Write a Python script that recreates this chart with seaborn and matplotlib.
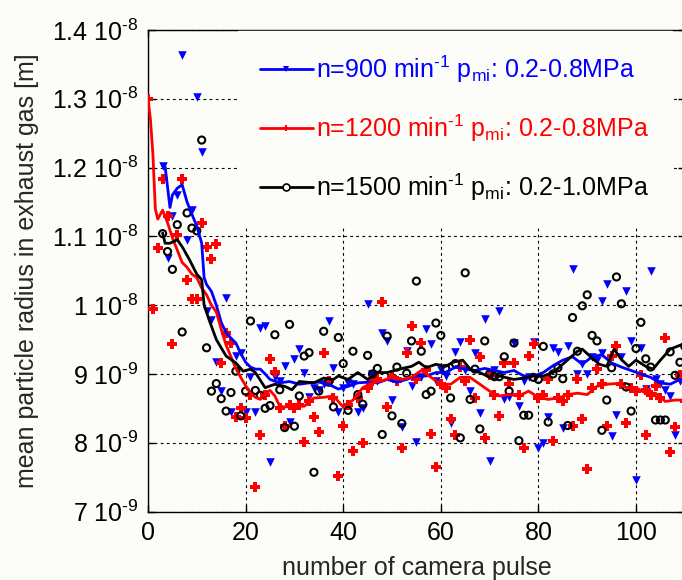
import matplotlib
matplotlib.use("Agg")
import matplotlib.pyplot as plt
from matplotlib.lines import Line2D
import seaborn as sns

# radius values in units of 1e-9 m, x = camera pulse number
blue_x = [3, 4, 5, 6, 7, 8, 9, 10, 11, 12, 13, 14, 15, 16, 17, 18, 19, 20, 21, 22,
          23, 24, 25, 26, 27, 28, 29, 30, 31, 32, 33, 34, 35, 36, 37, 38, 39, 40, 41, 42,
          43, 44, 45, 46, 47, 48, 49, 50, 51, 52, 53, 54, 55, 56, 57, 58, 59, 60, 61, 62,
          63, 64, 65, 66, 67, 68, 69, 70, 71, 72, 73, 74, 75, 76, 77, 78, 79, 80, 81, 82,
          83, 84, 85, 86, 87, 88, 89, 90, 91, 92, 93, 93, 94, 95, 96, 97, 98, 99, 100, 101,
          102, 103, 104, 105, 106, 107, 108, 109, 110]
blue_y = [12.02, 10.69, 11.29, 11.6, 13.64, 10.95, 11.39, 13.03, 12.23, 9.91, 9.79, 9.17, 8.75, 10.11, 8.44, 9.26, 9.3, 8.44, 8.95, 8.45,
          9.67, 9.70, 7.72, 8.95, 8.9, 9.11, 8.30, 9.22, 9.36, 9.01, 8.66, 8.80, 8.77, 8.85, 9.77, 9.09, 8.44, 8.8, 8.87, 8.85,
          8.45, 8.51, 10.01, 9.00, 8.9, 9.59, 9.48, 8.62, 8.9, 8.23, 9.34, 8.82, 8.01, 8.95, 9.65, 9.43, 8.89, 9.05, 8.97, 8.29,
          9.32, 9.47, 9.05, 8.75, 9.31, 8.43, 9.80, 7.73, 9.05, 9.91, 8.63, 8.66, 9.45, 8.54, 8.90, 8.95, 9.46, 7.93, 8.00, 8.38,
          9.38, 9.32, 8.22, 9.40, 10.53, 9.00, 9.15, 9.00, 9.25, 9.2, 10.06, 9.30, 10.31, 8.10, 8.40, 9.24, 10.20, 9.48, 7.46, 9.37,
          8.78, 10.49, 8.93, 8.85, 8.77, 8.68, 8.11, 8.9, 8.9]

red_x = [0, 1, 2, 3, 4, 5, 6, 7, 8, 9, 10, 11, 12, 13, 14, 15, 16, 17, 18, 19,
         20, 21, 22, 23, 24, 25, 26, 27, 28, 29, 30, 31, 32, 33, 34, 35, 36, 37, 38, 39,
         40, 41, 42, 43, 44, 45, 46, 47, 48, 49, 50, 51, 52, 53, 54, 55, 56, 57, 58, 59,
         60, 61, 62, 63, 64, 65, 66, 67, 68, 69, 70, 71, 72, 73, 74, 75, 76, 77, 78, 79,
         80, 81, 82, 83, 84, 85, 86, 87, 88, 89, 90, 91, 92, 93, 94, 95, 96, 97, 98, 99,
         100, 101, 102, 102, 103, 104, 105, 106, 107, 108, 109, 110]
red_y = [13.0, 9.94, 10.83, 11.84, 11.3, 9.43, 11.02, 11.84, 10.37, 10.09, 10.09, 11.19, 10.85, 10.67, 10.89, 9.16, 9.6, 9.45, 8.38, 8.51,
         8.36, 8.69, 7.36, 8.11, 8.7, 9.22, 9.03, 8.5, 8.24, 8.55, 8.5, 8.55, 8.01, 8.6, 8.37, 8.16, 9.30, 8.90, 8.65, 7.51,
         8.24, 8.55, 7.88, 8.65, 8.00, 8.8, 8.90, 8.92, 10.04, 8.52, 8.95, 8.89, 7.93, 9.31, 9.69, 8.92, 9.45, 9.05, 8.12, 7.64,
         8.85, 8.8, 8.35, 8.11, 9.10, 8.9, 9.50, 8.65, 9.24, 8.07, 8.99, 8.7, 8.39, 9.16, 8.85, 9.16, 8.7, 7.93, 9.26, 9.43,
         8.65, 8.7, 8.92, 8.03, 8.65, 8.6, 8.7, 8.25, 8.92, 8.35, 7.62, 8.8, 9.07, 8.85, 8.24, 9.26, 9.40, 8.85, 8.28, 8.8,
         8.75, 8.98, 8.11, 8.77, 8.7, 8.82, 8.65, 9.52, 7.86, 8.23, 8.98, 8.6]

black_x = [3, 4, 5, 6, 7, 8, 9, 10, 11, 12, 13, 14, 15, 16, 17, 18, 19, 20, 21, 22,
           23, 24, 25, 26, 27, 28, 29, 30, 31, 32, 33, 34, 35, 36, 37, 38, 39, 40, 41, 42,
           43, 44, 45, 46, 47, 48, 49, 50, 51, 52, 53, 54, 55, 56, 57, 58, 59, 60, 61, 62,
           63, 64, 65, 66, 67, 68, 69, 70, 71, 72, 73, 74, 75, 76, 77, 78, 79, 80, 81, 82,
           83, 84, 85, 86, 87, 88, 89, 90, 91, 92, 93, 94, 95, 96, 97, 98, 99, 100, 101, 102,
           103, 104, 105, 106, 107, 108, 109, 110]
black_y = [11.04, 10.78, 10.52, 11.17, 9.61, 11.34, 11.12, 11.08, 12.40, 9.38, 8.75, 8.86, 8.64, 8.46, 8.73, 9.04, 8.39, 8.75, 9.77, 8.76,
           8.69, 8.50, 8.54, 9.57, 8.77, 8.22, 9.72, 8.24, 8.68, 9.26, 9.31, 7.57, 8.75, 9.62, 8.88, 8.52, 9.53, 9.15, 8.47, 9.33,
           8.70, 8.56, 9.27, 9.0, 9.08, 8.12, 9.55, 8.39, 9.10, 8.28, 9.01, 9.48, 10.35, 9.33, 8.70, 8.75, 9.74, 9.56, 9.08, 8.65,
           9.15, 8.07, 10.47, 8.63, 9.07, 8.20, 9.48, 9.0, 8.96, 8.96, 9.25, 8.75, 9.45, 8.03, 8.40, 8.40, 8.95, 8.92, 9.40, 8.30,
           9.0, 9.09, 8.93, 8.25, 9.82, 9.33, 9.99, 10.15, 9.56, 9.48, 8.18, 8.62, 9.09, 10.41, 10.02, 8.81, 8.46, 9.37, 9.75, 9.22,
           9.1, 8.33, 8.33, 8.33, 9.32, 8.98, 9.17, 9.4]

# running-mean curves
red_line_x = [0, 0.5, 1, 1.5, 2, 3, 4, 5, 6, 7, 8, 9, 10, 11, 12, 13, 14, 15, 16, 17,
              18, 19, 20, 21, 22, 23, 24, 25, 26, 27, 28, 30, 32, 34, 36, 38, 40, 42, 44, 46,
              48, 50, 52, 54, 56, 58, 60, 62, 64, 66, 68, 70, 72, 74, 76, 78, 80, 82, 84, 86,
              88, 90, 92, 94, 96, 98, 100, 102, 104, 106, 108, 110, 112]
red_line_y = [13.0, 12.7, 12.2, 11.4, 11.25, 11.38, 11.2, 10.98, 10.8, 10.62, 10.55, 10.45, 10.4, 10.25, 10.15, 10.0, 9.9, 9.65, 9.42, 9.25,
              9.08, 8.95, 8.83, 8.72, 8.66, 8.63, 8.72, 8.76, 8.68, 8.53, 8.52, 8.53, 8.53, 8.65, 8.66, 8.68, 8.52, 8.62, 8.8, 8.87,
              8.9, 8.95, 8.92, 8.95, 9.05, 8.95, 8.85, 8.85, 8.95, 8.95, 8.85, 8.75, 8.68, 8.7, 8.68, 8.75, 8.66, 8.63, 8.65, 8.7,
              8.72, 8.7, 8.82, 8.85, 8.86, 8.8, 8.8, 8.72, 8.72, 8.6, 8.62, 8.62, 8.6]

blue_line_x = [3, 3.5, 4.5, 5, 6, 7, 8, 9, 10, 11, 11.5, 12, 13, 14, 15, 16, 17, 18, 19, 20,
               21, 22, 23, 24, 25, 27, 29, 31, 33, 35, 37, 39, 41, 43, 45, 47, 49, 51, 53, 55,
               57, 59, 61, 63, 65, 67, 69, 71, 73, 75, 77, 79, 81, 83, 85, 87, 89, 91, 93, 95,
               97, 99, 101, 103, 105, 107, 109, 111]
blue_line_y = [12.02, 12.02, 11.42, 11.6, 11.7, 11.75, 11.5, 11.32, 11.15, 10.9, 10.4, 10.3, 10.2, 10.0, 9.75, 9.6, 9.52, 9.45, 9.3, 9.17,
               9.1, 9.07, 9.07, 9.0, 8.92, 8.87, 8.89, 8.85, 8.87, 8.88, 8.85, 8.78, 8.82, 8.87, 8.88, 8.87, 8.92, 8.88, 8.92, 8.97,
               8.97, 9.02, 9.02, 9.1, 9.07, 9.05, 9.08, 9.05, 9.02, 9.05, 8.97, 8.97, 9.02, 9.12, 9.2, 9.25, 9.14, 9.25, 9.28, 9.16,
               9.1, 9.05, 9.0, 8.95, 8.87, 8.85, 8.92, 8.9]

black_line_x = [3, 3.5, 4.5, 6, 7, 8.5, 10, 11, 11.5, 12.5, 14, 16, 18, 19.5, 21, 22, 24, 26, 28, 29.5,
                31, 34, 36, 38, 39, 41, 43, 45, 47, 49, 51.5, 54, 55.5, 57, 59, 61, 62.5, 64.5, 66, 68,
                71, 72, 75, 77, 79, 81, 83, 84.5, 88, 89, 91, 92.5, 94, 95.5, 97, 98.5, 100, 102, 103.5, 105,
                107, 109.5]
black_line_y = [11.05, 10.9, 10.9, 10.95, 10.85, 10.66, 10.45, 10.37, 10.0, 9.79, 9.50, 9.26, 9.16, 9.04, 9.07, 9.02, 8.80, 8.85, 8.82, 8.77,
                8.89, 8.87, 8.94, 8.92, 8.97, 8.92, 9.02, 8.92, 9.02, 9.02, 9.07, 9.11, 9.17, 9.09, 9.14, 9.11, 9.17, 9.2, 9.07, 9.02,
                8.92, 8.97, 8.92, 8.94, 8.97, 8.97, 9.02, 9.11, 9.33, 9.36, 9.23, 9.14, 9.11, 9.36, 9.21, 9.11, 9.2, 9.11, 9.07, 9.2,
                9.36, 9.43]

# "\u2010" is a plain hyphen, so the exponents read "-8" and not a long minus
y_ticks = [7, 8, 9, 10, 11, 12, 13, 14]
y_tick_labels = ["7 10$^{\u20109}$", "8 10$^{\u20109}$", "9 10$^{\u20109}$", "1 10$^{\u20108}$",
                 "1.1 10$^{\u20108}$", "1.2 10$^{\u20108}$", "1.3 10$^{\u20108}$", "1.4 10$^{\u20108}$"]
x_ticks = [0, 20, 40, 60, 80, 100]
legend_labels = [
    "n=900 min$^{\u20101}$ p$_{mi}$: 0.2-0.8MPa",
    "n=1200 min$^{\u20101}$ p$_{mi}$: 0.2-0.8MPa",
    "n=1500 min$^{\u20101}$ p$_{mi}$: 0.2-1.0MPa",
]

BG = "#fcfcf8"
BLUE, RED, BLACK = "#0000ff", "#ff0000", "#000000"
FS = 18

sns.set_style("ticks")
plt.rcParams["font.family"] = ["Liberation Sans", "DejaVu Sans"]
plt.rcParams["mathtext.fontset"] = "custom"
plt.rcParams["mathtext.rm"] = "Liberation Sans"
plt.rcParams["mathtext.it"] = "Liberation Sans:italic"
plt.rcParams["mathtext.bf"] = "Liberation Sans:bold"
plt.rcParams["mathtext.default"] = "regular"

fig = plt.figure(figsize=(6.82, 5.8), dpi=100, facecolor=BG)
# right edge of the axes sits just outside the picture, like the reference crop
ax = fig.add_axes([148 / 682, 1 - 511.5 / 580, (684.8 - 148) / 682, 481.5 / 580])
ax.set_facecolor(BG)

ax.grid(True, color="k", linestyle=(0, (2.5, 3)), linewidth=0.8)
ax.set_axisbelow(True)

sns.scatterplot(x=blue_x, y=blue_y, marker="v", color=BLUE, s=38, linewidth=0, ax=ax, zorder=3)
sns.scatterplot(x=red_x, y=red_y, marker="P", color=RED, s=50, linewidth=0, ax=ax, zorder=3)
sns.scatterplot(x=black_x, y=black_y, marker="o", facecolor="none", edgecolor=BLACK,
                s=26, linewidth=1.5, ax=ax, zorder=3)

for lx, ly, col in [(blue_line_x, blue_line_y, BLUE),
                    (red_line_x, red_line_y, RED),
                    (black_line_x, black_line_y, BLACK)]:
    sns.lineplot(x=lx, y=ly, color=col, linewidth=2, estimator=None, sort=False, ax=ax, zorder=4)

ax.set_xlim(0, 110)
ax.set_ylim(7, 14)
ax.set_xticks(x_ticks)
ax.set_yticks(y_ticks)
ax.set_yticklabels(y_tick_labels)
ax.tick_params(direction="in", top=True, right=True, length=5, width=1,
               labelsize=FS, colors="k", pad=7)
for sp in ax.spines.values():
    sp.set_linewidth(1)
    sp.set_color("k")

ax.set_xlabel("number of camera pulse", fontsize=FS, labelpad=8)
ax.set_ylabel("mean particle radius in exhaust gas [m]", fontsize=FS, labelpad=9)

handles = [
    Line2D([], [], color=BLUE, lw=2, marker="v", ms=5, mew=0),
    Line2D([], [], color=RED, lw=2, marker="P", ms=5, mew=0),
    Line2D([], [], color=BLACK, lw=2, marker="o", ms=5, mfc="white", mec=BLACK, mew=1.2),
]
leg = ax.legend(handles, legend_labels, loc="upper left", bbox_to_anchor=(0.167, 0.998),
                fontsize=FS, frameon=True, facecolor=BG, edgecolor=BG, framealpha=1,
                handlelength=2.1, handletextpad=0.15, labelspacing=1.1, borderpad=0.9,
                borderaxespad=0, fancybox=False)
leg.set_zorder(5)
for txt, col in zip(leg.get_texts(), [BLUE, RED, BLACK]):
    txt.set_color(col)

fig.savefig("out.png", dpi=100, facecolor=BG)
